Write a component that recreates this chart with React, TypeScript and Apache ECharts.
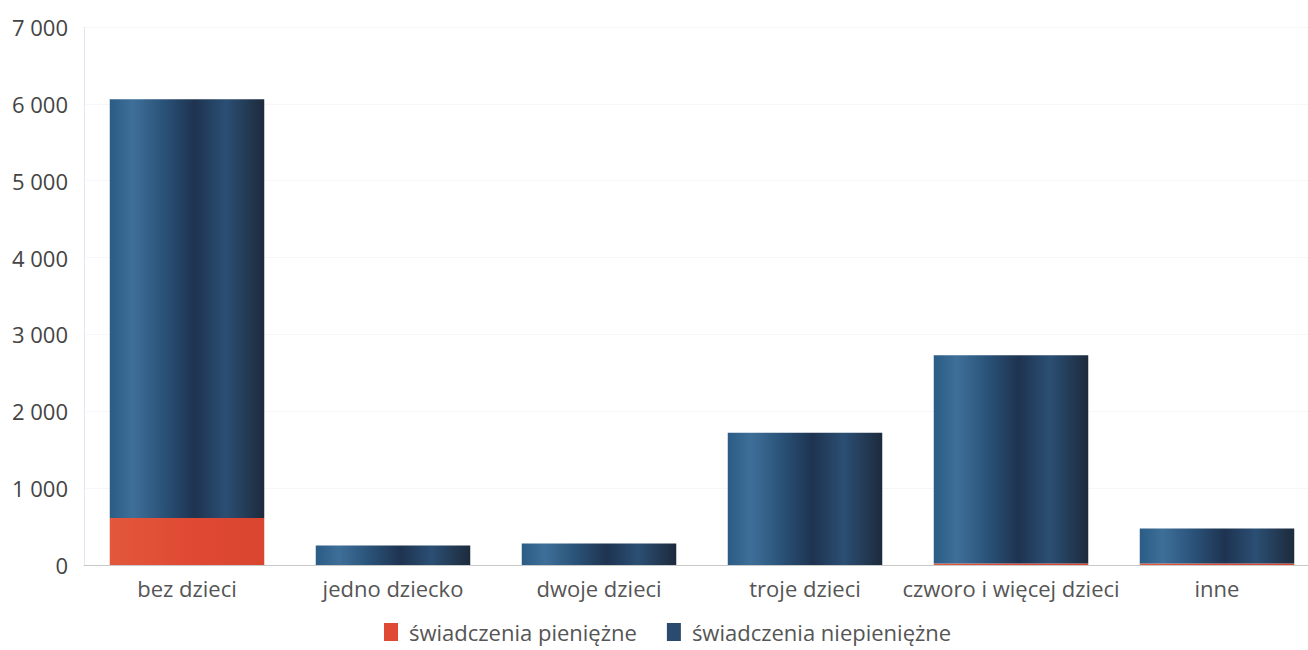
import React, { useEffect, useRef } from "react";
import * as echarts from "echarts";

const categories = ["bez dzieci", "jedno dziecko", "dwoje dzieci", "troje dzieci", "czworo i więcej dzieci", "inne"];
const cashValues = [610, 0, 0, 0, 20, 20];
const inKindValues = [5450, 255, 280, 1720, 2710, 455];
const seriesNames = ["świadczenia pieniężne", "świadczenia niepieniężne"];

const fmt = (v: number) => String(v).replace(/\B(?=(\d{3})+(?!\d))/g, " ");

export default function App() {
  const ref = useRef<HTMLDivElement>(null);
  useEffect(() => {
    if (!ref.current) return;
    const chart = echarts.init(ref.current, null, { renderer: "svg" });
    const blue = new echarts.graphic.LinearGradient(0, 0, 1, 0, [
      { offset: 0, color: "#2b5c86" },
      { offset: 0.15, color: "#3e6f99" },
      { offset: 0.35, color: "#2a5278" },
      { offset: 0.55, color: "#1e3350" },
      { offset: 0.75, color: "#2b4f74" },
      { offset: 1, color: "#1d2a3c" },
    ]);
    const red = new echarts.graphic.LinearGradient(0, 0, 1, 0, [
      { offset: 0, color: "#e2583c" },
      { offset: 0.5, color: "#e04a34" },
      { offset: 1, color: "#d9452f" },
    ]);
    chart.setOption({
      animation: false,
      textStyle: { fontFamily: "Open Sans" },
      grid: { left: 84, right: 0, top: 27, bottom: 85, containLabel: false },
      legend: {
        top: 616,
        left: 379,
        itemWidth: 14,
        itemHeight: 18,
        itemGap: 30,
        textStyle: { fontSize: 22, color: "#555", fontFamily: "Open Sans", padding: [0, 0, 0, 6] },
        data: [
          { name: seriesNames[0], icon: "rect", itemStyle: { color: "#e04a34" } },
          { name: seriesNames[1], icon: "rect", itemStyle: { color: "#2a4a6e" } },
        ],
      },
      xAxis: {
        type: "category",
        data: categories,
        axisLine: { lineStyle: { color: "#c8c8c8" } },
        axisTick: { show: false },
        axisLabel: { interval: 0, fontSize: 22, color: "#555", margin: 12, fontFamily: "Open Sans" },
      },
      yAxis: {
        type: "value",
        min: 0,
        max: 7000,
        interval: 1000,
        axisLine: { show: true, lineStyle: { color: "#e3e6f0" } },
        axisTick: { show: false },
        splitLine: { show: true, lineStyle: { color: "#f7f7f7" } },
        axisLabel: { fontSize: 22, color: "#444", margin: 16, formatter: (v: number) => fmt(v), fontFamily: "Open Sans" },
      },
      series: [
        {
          name: seriesNames[0],
          type: "bar",
          stack: "total",
          barWidth: "75%",
          data: cashValues,
          itemStyle: { color: red },
        },
        {
          name: seriesNames[1],
          type: "bar",
          stack: "total",
          barWidth: "75%",
          data: inKindValues,
          itemStyle: { color: blue },
        },
      ],
    });
    return () => chart.dispose();
  }, []);
  return (
    <div style={{ width: 1308, height: 650, position: "absolute", left: 0, top: 0, overflow: "hidden" }}>
      <div ref={ref} style={{ width: 1320, height: 650 }} />
    </div>
  );
}
